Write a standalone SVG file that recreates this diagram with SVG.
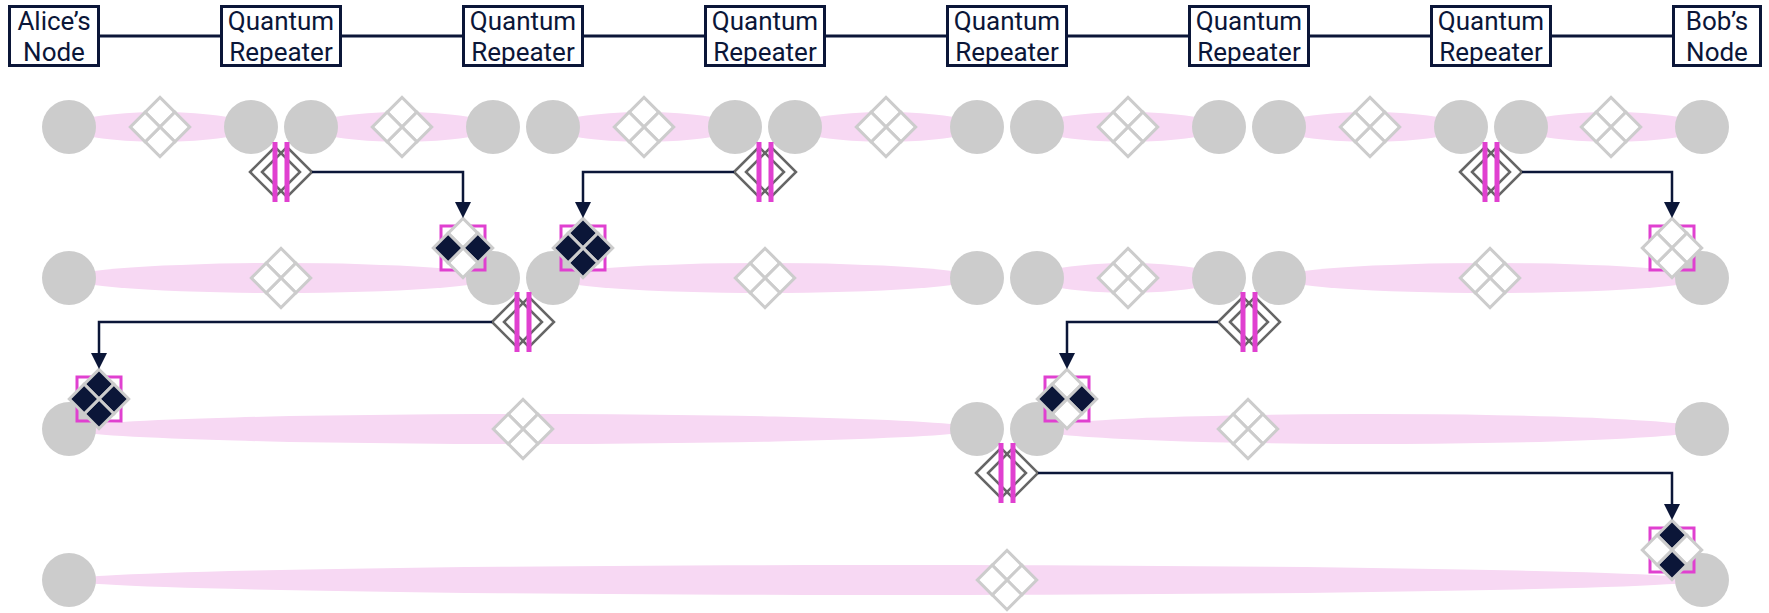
<svg xmlns="http://www.w3.org/2000/svg" xmlns:xlink="http://www.w3.org/1999/xlink" width="1769" height="613" viewBox="0 0 1769 613">
<style>
.box{fill:#fff;stroke:#0b1638;stroke-width:3}
.lbl{font-family:Roboto,"Liberation Sans",sans-serif;font-size:26px;fill:#0b1638;text-anchor:middle}
.wire{stroke:#0b1638;stroke-width:3;fill:none}
.q{fill:#cccccc}
.link{fill:#f7d8f3}
.cell{fill:#fff;stroke:#cccccc;stroke-width:3}
.cell.d{fill:#0b1638}
.frame{fill:none;stroke:#e040d0;stroke-width:3}
.bsm{fill:none;stroke:#666666;stroke-width:2.5}
.bar{fill:#e040d0}
.arrow{fill:none;stroke:#0b1638;stroke-width:2.5;marker-end:url(#ah)}
</style>
<defs>
<marker id="ah" markerUnits="userSpaceOnUse" markerWidth="16" markerHeight="16" viewBox="0 0 15 15" refX="0" refY="7.5" orient="auto">
<path d="M0,0 L15,7.5 L0,15 z" fill="#0b1638"/>
</marker>
<rect id="cT" x="-21" y="-21" width="21" height="21"/>
<rect id="cR" x="0" y="-21" width="21" height="21"/>
<rect id="cB" x="0" y="0" width="21" height="21"/>
<rect id="cL" x="-21" y="0" width="21" height="21"/>
<g id="dia">
<use xlink:href="#cT" class="cell"/><use xlink:href="#cR" class="cell"/><use xlink:href="#cB" class="cell"/><use xlink:href="#cL" class="cell"/>
</g>
<g id="swap">
<polygon class="bsm" points="-31,0 -6,-25 19,0 -6,25"/>
<polygon class="bsm" points="-19,0 6,-25 31,0 6,25"/>
<rect class="bar" x="-8.5" y="-30" width="5" height="60"/>
<rect class="bar" x="3.5" y="-30" width="5" height="60"/>
</g>
</defs>

<!-- top chain -->
<g id="chain-links">
<path class="wire" d="M100,36 H220 M342,36 H462 M584,36 H704 M826,36 H946 M1068,36 H1188 M1310,36 H1430 M1552,36 H1672"/>
</g>
<g id="alice"><rect class="box" x="9.5" y="6.5" width="89" height="59"/><text class="lbl" x="54" y="30">Alice’s</text><text class="lbl" x="54" y="61">Node</text></g>
<g id="rep1"><rect class="box" x="221.5" y="6.5" width="119" height="59"/><text class="lbl" x="281" y="30">Quantum</text><text class="lbl" x="281" y="61">Repeater</text></g>
<g id="rep2"><rect class="box" x="463.5" y="6.5" width="119" height="59"/><text class="lbl" x="523" y="30">Quantum</text><text class="lbl" x="523" y="61">Repeater</text></g>
<g id="rep3"><rect class="box" x="705.5" y="6.5" width="119" height="59"/><text class="lbl" x="765" y="30">Quantum</text><text class="lbl" x="765" y="61">Repeater</text></g>
<g id="rep4"><rect class="box" x="947.5" y="6.5" width="119" height="59"/><text class="lbl" x="1007" y="30">Quantum</text><text class="lbl" x="1007" y="61">Repeater</text></g>
<g id="rep5"><rect class="box" x="1189.5" y="6.5" width="119" height="59"/><text class="lbl" x="1249" y="30">Quantum</text><text class="lbl" x="1249" y="61">Repeater</text></g>
<g id="rep6"><rect class="box" x="1431.5" y="6.5" width="119" height="59"/><text class="lbl" x="1491" y="30">Quantum</text><text class="lbl" x="1491" y="61">Repeater</text></g>
<g id="bob"><rect class="box" x="1673.5" y="6.5" width="87" height="59"/><text class="lbl" x="1717" y="30">Bob’s</text><text class="lbl" x="1717" y="61">Node</text></g>

<!-- row 1 -->
<g id="row1">
<ellipse class="link" cx="160" cy="127" rx="91" ry="15"/>
<ellipse class="link" cx="402" cy="127" rx="91" ry="15"/>
<ellipse class="link" cx="644" cy="127" rx="91" ry="15"/>
<ellipse class="link" cx="886" cy="127" rx="91" ry="15"/>
<ellipse class="link" cx="1128" cy="127" rx="91" ry="15"/>
<ellipse class="link" cx="1370" cy="127" rx="91" ry="15"/>
<ellipse class="link" cx="1611.5" cy="127" rx="90.5" ry="15"/>
<circle class="q" cx="69" cy="127" r="27"/><circle class="q" cx="251" cy="127" r="27"/><circle class="q" cx="311" cy="127" r="27"/>
<circle class="q" cx="493" cy="127" r="27"/><circle class="q" cx="553" cy="127" r="27"/><circle class="q" cx="735" cy="127" r="27"/>
<circle class="q" cx="795" cy="127" r="27"/><circle class="q" cx="977" cy="127" r="27"/><circle class="q" cx="1037" cy="127" r="27"/>
<circle class="q" cx="1219" cy="127" r="27"/><circle class="q" cx="1279" cy="127" r="27"/><circle class="q" cx="1461" cy="127" r="27"/>
<circle class="q" cx="1521" cy="127" r="27"/><circle class="q" cx="1702" cy="127" r="27"/>
<use xlink:href="#dia" transform="translate(160,127) rotate(45)"/>
<use xlink:href="#dia" transform="translate(402,127) rotate(45)"/>
<use xlink:href="#dia" transform="translate(644,127) rotate(45)"/>
<use xlink:href="#dia" transform="translate(886,127) rotate(45)"/>
<use xlink:href="#dia" transform="translate(1128,127) rotate(45)"/>
<use xlink:href="#dia" transform="translate(1370,127) rotate(45)"/>
<use xlink:href="#dia" transform="translate(1611,127) rotate(45)"/>
</g>

<!-- row 2 -->
<g id="row2">
<ellipse class="link" cx="281" cy="278" rx="212" ry="15"/>
<ellipse class="link" cx="765" cy="278" rx="212" ry="15"/>
<ellipse class="link" cx="1128" cy="278" rx="91" ry="15"/>
<ellipse class="link" cx="1490.5" cy="278" rx="211.5" ry="15"/>
<circle class="q" cx="69" cy="278" r="27"/><circle class="q" cx="493" cy="278" r="27"/><circle class="q" cx="553" cy="278" r="27"/>
<circle class="q" cx="977" cy="278" r="27"/><circle class="q" cx="1037" cy="278" r="27"/><circle class="q" cx="1219" cy="278" r="27"/>
<circle class="q" cx="1279" cy="278" r="27"/><circle class="q" cx="1702" cy="278" r="27"/>
<use xlink:href="#dia" transform="translate(281,278) rotate(45)"/>
<use xlink:href="#dia" transform="translate(765,278) rotate(45)"/>
<use xlink:href="#dia" transform="translate(1128,278) rotate(45)"/>
<use xlink:href="#dia" transform="translate(1490,278) rotate(45)"/>
</g>

<!-- row 3 -->
<g id="row3">
<ellipse class="link" cx="523" cy="429" rx="454" ry="15"/>
<ellipse class="link" cx="1369.5" cy="429" rx="332.5" ry="15"/>
<circle class="q" cx="69" cy="429" r="27"/><circle class="q" cx="977" cy="429" r="27"/>
<circle class="q" cx="1037" cy="429" r="27"/><circle class="q" cx="1702" cy="429" r="27"/>
<use xlink:href="#dia" transform="translate(523,429) rotate(45)"/>
<use xlink:href="#dia" transform="translate(1248,429) rotate(45)"/>
</g>

<!-- row 4 -->
<g id="row4">
<ellipse class="link" cx="885.5" cy="580" rx="816.5" ry="15"/>
<circle class="q" cx="69" cy="580" r="27"/><circle class="q" cx="1702" cy="580" r="27"/>
<use xlink:href="#dia" transform="translate(1007,580) rotate(45)"/>
</g>

<!-- swaps -->
<g id="swap-r1"><use xlink:href="#swap" transform="translate(281,172)"/></g>
<g id="swap-r3"><use xlink:href="#swap" transform="translate(765,172)"/></g>
<g id="swap-r6"><use xlink:href="#swap" transform="translate(1491,172)"/></g>
<g id="swap-r2"><use xlink:href="#swap" transform="translate(523,322)"/></g>
<g id="swap-r5"><use xlink:href="#swap" transform="translate(1249,322)"/></g>
<g id="swap-r4"><use xlink:href="#swap" transform="translate(1007,473)"/></g>

<!-- corrections -->
<g id="corr1" transform="translate(463,248)"><rect class="frame" x="-22" y="-22" width="44" height="44"/><g transform="rotate(45)"><use xlink:href="#cT" class="cell"/><use xlink:href="#cR" class="cell d"/><use xlink:href="#cB" class="cell"/><use xlink:href="#cL" class="cell d"/></g></g>
<g id="corr2" transform="translate(583,248)"><rect class="frame" x="-22" y="-22" width="44" height="44"/><g transform="rotate(45)"><use xlink:href="#cT" class="cell d"/><use xlink:href="#cR" class="cell d"/><use xlink:href="#cB" class="cell d"/><use xlink:href="#cL" class="cell d"/></g></g>
<g id="corr3" transform="translate(1672,248)"><rect class="frame" x="-22" y="-22" width="44" height="44"/><g transform="rotate(45)"><use xlink:href="#cT" class="cell"/><use xlink:href="#cR" class="cell"/><use xlink:href="#cB" class="cell"/><use xlink:href="#cL" class="cell"/></g></g>
<g id="corr4" transform="translate(99,399)"><rect class="frame" x="-22" y="-22" width="44" height="44"/><g transform="rotate(45)"><use xlink:href="#cT" class="cell d"/><use xlink:href="#cR" class="cell d"/><use xlink:href="#cB" class="cell d"/><use xlink:href="#cL" class="cell d"/></g></g>
<g id="corr5" transform="translate(1067,399)"><rect class="frame" x="-22" y="-22" width="44" height="44"/><g transform="rotate(45)"><use xlink:href="#cT" class="cell"/><use xlink:href="#cR" class="cell d"/><use xlink:href="#cB" class="cell"/><use xlink:href="#cL" class="cell d"/></g></g>
<g id="corr6" transform="translate(1672,550)"><rect class="frame" x="-22" y="-22" width="44" height="44"/><g transform="rotate(45)"><use xlink:href="#cT" class="cell d"/><use xlink:href="#cR" class="cell"/><use xlink:href="#cB" class="cell d"/><use xlink:href="#cL" class="cell"/></g></g>

<!-- connectors -->
<g id="connectors">
<path class="arrow" d="M312,172 H463 V202"/>
<path class="arrow" d="M734,172 H583 V202"/>
<path class="arrow" d="M1522,172 H1672 V202"/>
<path class="arrow" d="M492,322 H99 V353"/>
<path class="arrow" d="M1218,322 H1067 V353"/>
<path class="arrow" d="M1038,473 H1672 V504"/>
</g>
</svg>
